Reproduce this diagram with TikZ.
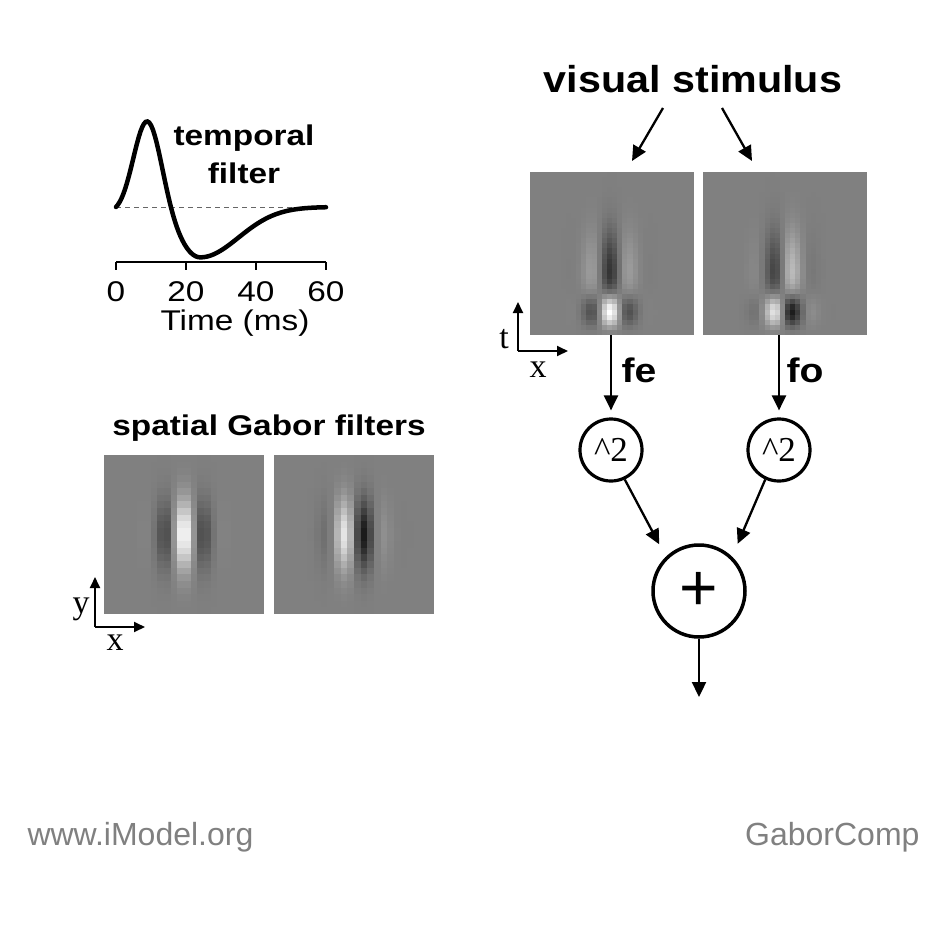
\documentclass[tikz,border=0pt]{standalone}
\usepackage{fontspec}
\setmainfont{Liberation Sans}
\newfontfamily\tnr{Liberation Serif}
\newfontfamily\widesf[FakeStretch=1.17]{Liberation Sans}
\newfontfamily\stimsf[FakeStretch=1.1]{Liberation Sans}
\newfontfamily\pairsf[FakeStretch=1.15]{Liberation Sans}
\usetikzlibrary{arrows.meta}
\definecolor{footgray}{HTML}{808080}

\tikzset{
  arr/.style={line width=2.3bp, -{Triangle[length=15bp,width=14bp]}},
  axarr/.style={line width=1.8bp, -{Triangle[length=11bp,width=10bp]}},
  sqop/.style={circle, draw, line width=3.2bp, minimum size=62bp, inner sep=0pt,
    font=\tnr\fontsize{35bp}{40bp}\selectfont},
  sumop/.style={circle, draw, line width=3.5bp, minimum size=92bp, inner sep=0pt,
    font=\fontsize{66bp}{72bp}\selectfont},
  panel/.style={fill=black!50, inner sep=0pt},
  bigtitle/.style={font=\stimsf\bfseries\fontsize{37.5bp}{44bp}\selectfont, anchor=base},
  title/.style={font=\widesf\bfseries\fontsize{28.5bp}{34bp}\selectfont, anchor=base},
  pairlbl/.style={font=\pairsf\bfseries\fontsize{34bp}{40bp}\selectfont, anchor=base west},
  num/.style={font=\widesf\fontsize{28.5bp}{34bp}\selectfont, anchor=base, inner sep=1pt},
  axlbl/.style={font=\tnr\fontsize{34bp}{40bp}\selectfont, anchor=base},
  footer/.style={font=\fontsize{32bp}{38bp}\selectfont, text=footgray},
  declare function={tf(\t)=(1-exp(max(-9,-\t/2)))*(exp(max(-9,-(\t-9)*(\t-9)/32))
    -0.56*exp(max(-9,-(\t-24)*(\t-24)/(2*(\t<24?6.5:11)*(\t<24?6.5:11)))));}
}

\begin{document}
\begin{tikzpicture}[x=1bp, y=-1bp]
\useasboundingbox (0,0) rectangle (945,942);

% temporal filter
\draw[black!60, line width=1bp, dash pattern=on 5bp off 4bp] (116,207) -- (326,207);
\draw[line width=4.5bp, line cap=round]
  plot[domain=0:60, samples=121] ({116+3.5*\x},{207-90*tf(\x)});
\draw[line width=1.7bp] (116,262) -- (326,262);
\foreach \t in {0,20,40,60} {
  \draw[line width=1.7bp] (116+3.5*\t,262) -- (116+3.5*\t,270);
  \node[num] (tk\t) at (116+3.5*\t,301) {\t};
}
\node[num] (time) at (235,330) {Time (ms)};
\node[title] (temp1) at (244,145) {temporal};
\node[title] (temp2) at (244,183) {filter};

% spatial Gabor filters
\node[title] (spat) at (269,435) {spatial Gabor filters};
\node[panel, minimum width=160bp, minimum height=159bp] (gabE) at (184,534.5) {};
\node[panel, minimum width=160bp, minimum height=159bp] (gabO) at (354,534.5) {};
\foreach \px/\ph in {104/0, 274/90} {
  \foreach \i in {0,...,23} {
    \foreach \j in {0,...,23} {
      \pgfmathsetmacro\ddx{(\i+0.5)*160/24-80}
      \pgfmathsetmacro\ddy{(\j+0.5)*159/24-79.5}
      \pgfmathsetmacro\gval{exp(max(-9,-\ddx*\ddx/480-\ddy*\ddy/1152))*cos(7.826*\ddx+\ph)}
      \pgfmathsetmacro\gpct{max(0,min(100,50-50*\gval))}
      \fill[black!\gpct] (\px+\i*160/24,455+\j*159/24) rectangle ++(6.9,6.9);
    }
  }
}
\coordinate (yx0) at (95,627);
\coordinate (yUp) at (95,577);
\coordinate (xRt) at (145,627);
\draw[axarr] (yx0) -- (yUp);
\draw[axarr] (yx0) -- (xRt);
\node[axlbl] (ylbl) at (81,613) {y};
\node[axlbl] (xlbl1) at (115,650) {x};

% visual stimulus and quadrature pair
\node[bigtitle] (stim) at (693,92) {visual stimulus};
\node[panel, minimum width=164bp, minimum height=163bp] (fe) at (612,253.5) {};
\node[panel, minimum width=164bp, minimum height=163bp] (fo) at (785,253.5) {};
\foreach \px/\ph in {530/0, 703/90} {
  \foreach \i in {0,...,31} {
    \foreach \j in {0,...,31} {
      \pgfmathsetmacro\ddx{(\i+0.5)*164/32-80}
      \pgfmathsetmacro\tms{(163-(\j+0.5)*163/32)/2.6}
      \pgfmathsetmacro\gval{exp(max(-9,-\ddx*\ddx/420))*cos(7.826*\ddx+\ph)*tf(\tms)/0.95}
      \pgfmathsetmacro\gpct{max(0,min(100,50-50*\gval))}
      \fill[black!\gpct] (\px+\i*164/32,172+\j*163/32) rectangle ++(5.3,5.3);
    }
  }
}
\coordinate (vsL) at (663,108);
\coordinate (vsR) at (722,108);
\coordinate (feIn) at (632,161);
\coordinate (foIn) at (752,161);
\draw[arr] (vsL) -- (feIn);
\draw[arr] (vsR) -- (foIn);
\coordinate (tx0) at (518,351);
\coordinate (tUp) at (518,302);
\coordinate (xRt2) at (568,351);
\draw[axarr] (tx0) -- (tUp);
\draw[axarr] (tx0) -- (xRt2);
\node[axlbl] (tlbl) at (504,348) {t};
\node[axlbl] (xlbl2) at (538,377) {x};

% energy model
\node[sqop] (sqE) at (611,450) {\textasciicircum2};
\node[sqop] (sqO) at (779,450) {\textasciicircum2};
\node[sumop] (plus) at (699,591) {+};
\coordinate (out) at (699,697);
\draw[arr, shorten >=7bp] (fe.south -| sqE.north) -- (sqE.north);
\draw[arr, shorten >=7bp] (fo.south -| sqO.north) -- (sqO.north);
\node[pairlbl] (felbl) at (618,382) {fe};
\node[pairlbl] (follbl) at (783,382) {fo};
\draw[arr, shorten >=14bp] (sqE.-65) -- (plus.134);
\draw[arr, shorten >=14bp] (sqO.-115) -- (plus.46);
\draw[arr] (plus.south) -- (out);

% footer
\node[footer, anchor=base west] (web) at (24,845) {www.iModel.org};
\node[footer, anchor=base east] (tag) at (923,845) {GaborComp};
\end{tikzpicture}
\end{document}
